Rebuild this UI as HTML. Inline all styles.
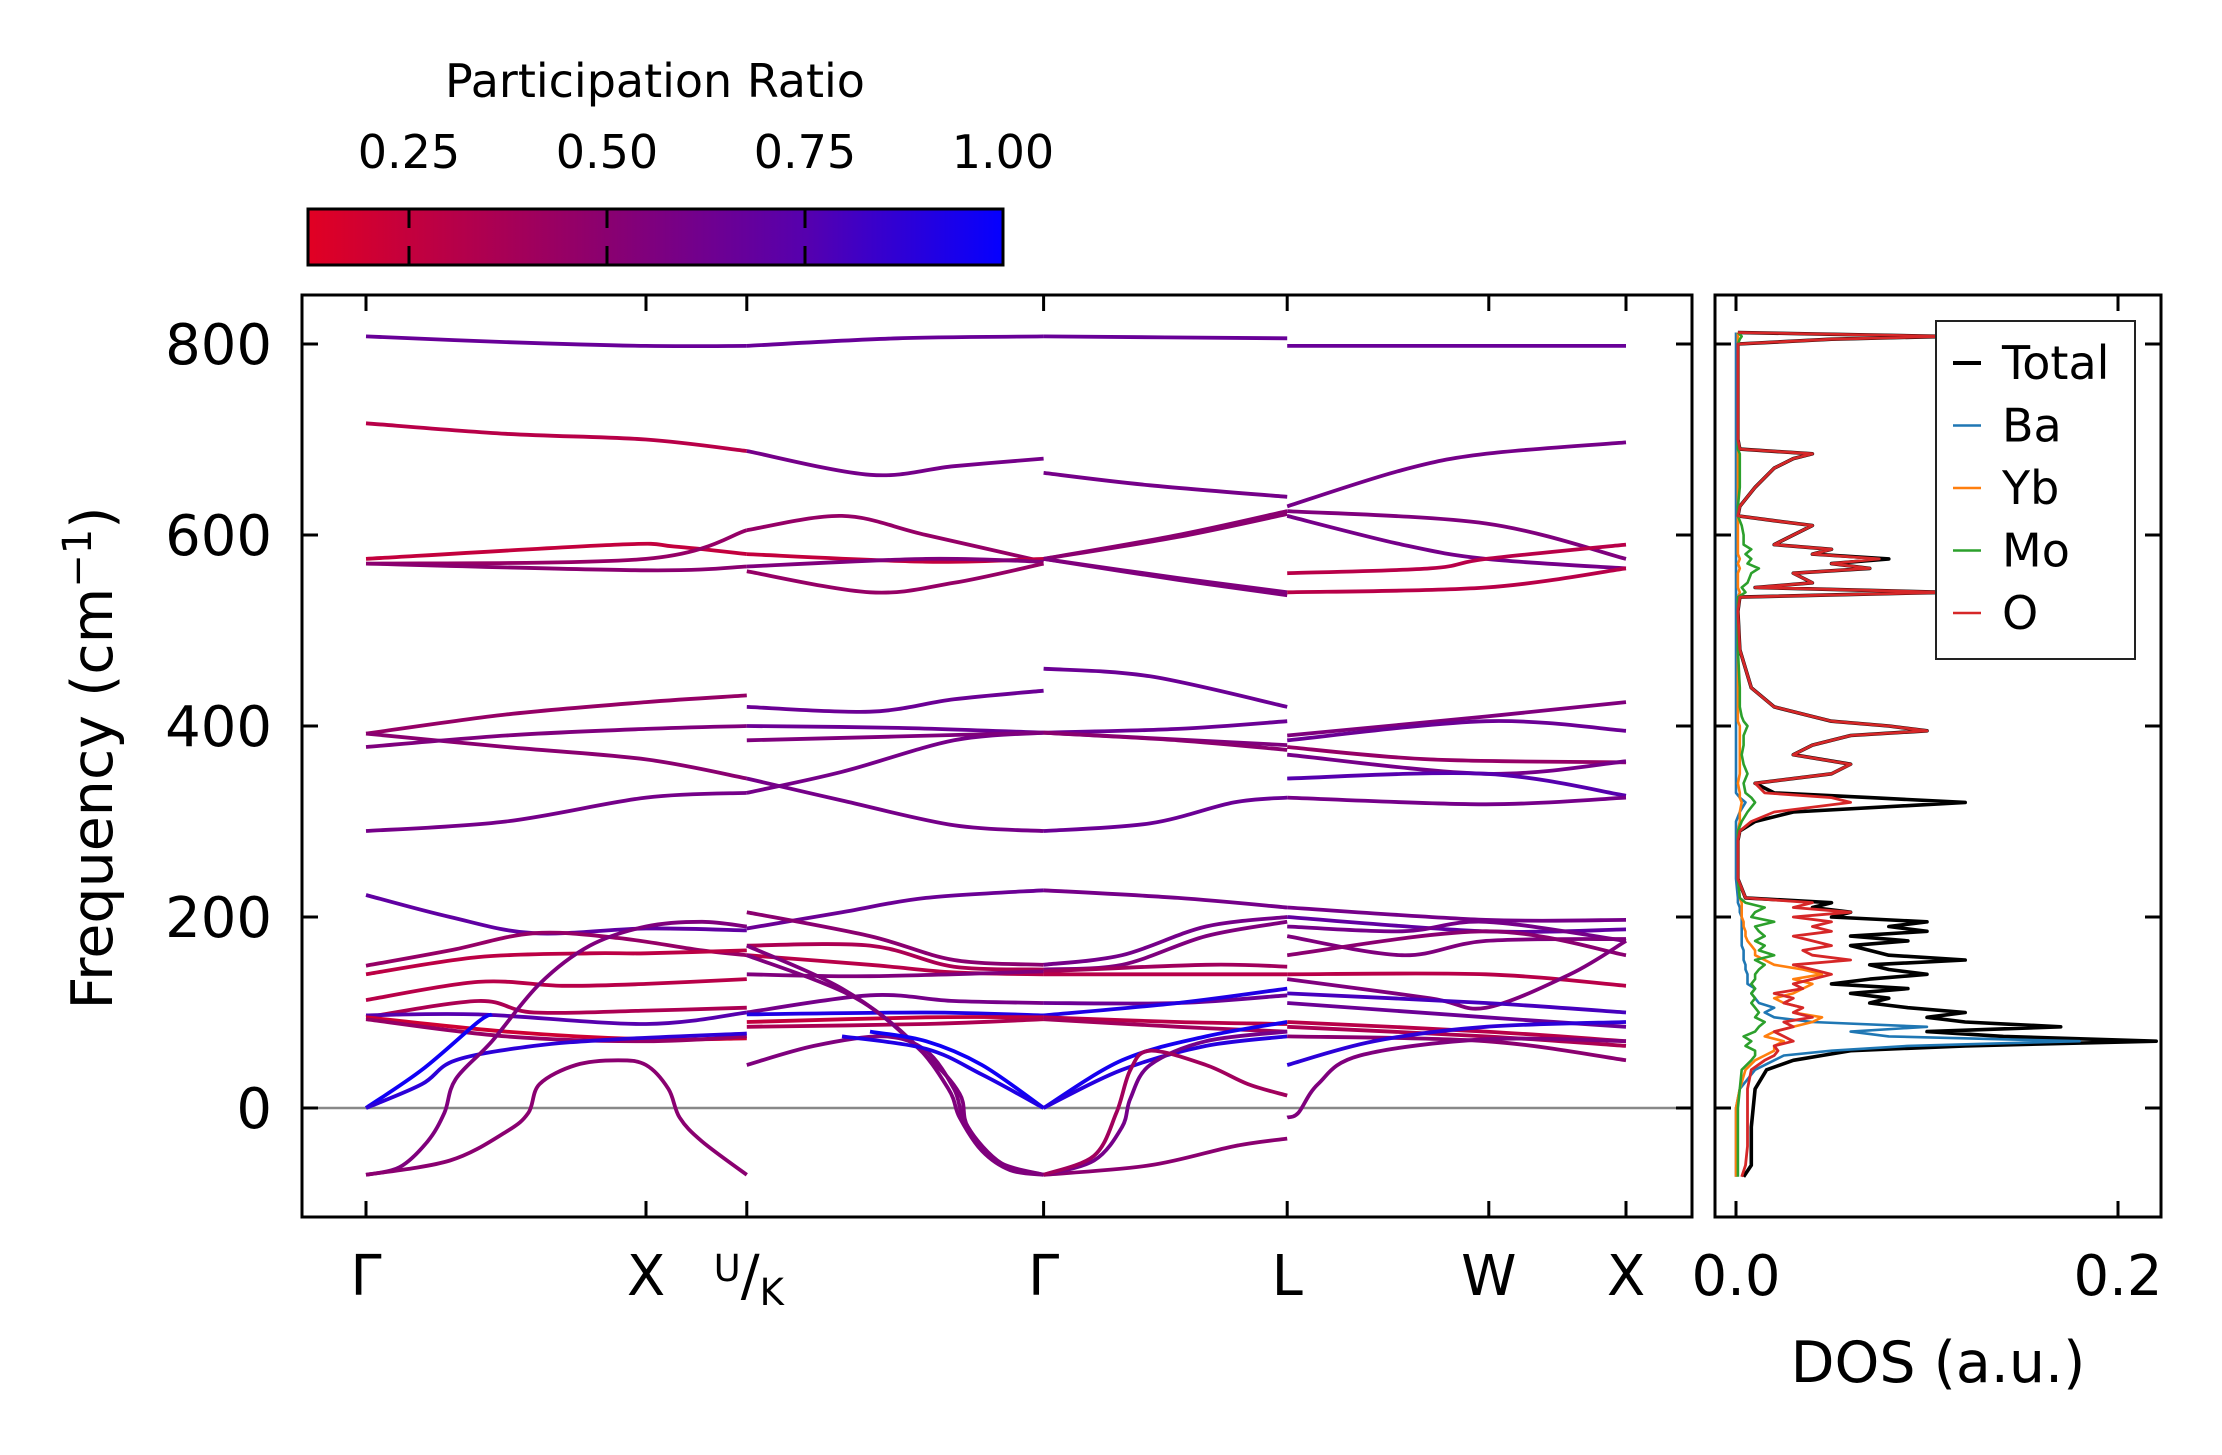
<!DOCTYPE html>
<html><head><meta charset="utf-8"><style>
html,body{margin:0;padding:0;background:#fff;}
svg{display:block;font-family:"DejaVu Sans","Liberation Sans",sans-serif;}
</style></head><body>
<svg id="chart" width="2222" height="1455" viewBox="0 0 2222 1455" xmlns="http://www.w3.org/2000/svg">
<defs>
<linearGradient id="cbgrad" x1="0" x2="1" y1="0" y2="0">
<stop offset="0" stop-color="rgb(225,0,35)"/>
<stop offset="0.43" stop-color="rgb(138,0,112)"/>
<stop offset="0.72" stop-color="rgb(85,0,175)"/>
<stop offset="1" stop-color="rgb(5,0,255)"/>
</linearGradient>
<clipPath id="mainclip"><rect x="302" y="295" width="1390" height="922"/></clipPath>
<clipPath id="dosclip"><rect x="1715" y="295" width="446" height="922"/></clipPath>
</defs>
<text x="655" y="97" font-size="46" text-anchor="middle">Participation Ratio</text>
<g id="cbticks"></g>
<rect x="308" y="209" width="695" height="56" fill="url(#cbgrad)" stroke="#000" stroke-width="3"/>
<g id="cbmarks"></g>
<g id="main"></g>
<g id="dos"></g>
<text transform="translate(112,758) rotate(-90)" font-size="57" text-anchor="middle">Frequency (cm<tspan dy="-21" font-size="40">−1</tspan><tspan dy="21">)</tspan></text>
<text x="1938" y="1382" font-size="57" text-anchor="middle">DOS (a.u.)</text>
</svg>
<script>
// ---- band structure data ----
const kTickPos = [0, 1, 1.36, 2.42, 3.29, 4.01, 4.5];
const kTickLabels = ['Γ', 'X', 'U/K', 'Γ', 'L', 'W', 'X'];
const freqTicks = [0, 200, 400, 600, 800];
const cbTicks = [0.25, 0.5, 0.75, 1.0];
const cbTickLabels = ['0.25', '0.50', '0.75', '1.00'];
const bandK = [
// segment 1
[0,0.5,1,1.36],[0,0.5,1,1.36],[0,0.9,1.1,1.36],[0,1,1.36],[0,1,1.36],
[0,0.5,1,1.36],[0,0.5,1,1.36],[0,0.5,1,1.36],[0,0.5,1,1.36],
[0,0.3,0.6,1,1.36],[0,0.3,0.6,0.9,1.2,1.36],[0,0.4,0.8,1,1.36],[0,0.4,0.7,1,1.36],
[0,0.4,0.6,1,1.36],[0,0.4,1,1.36],[0,0.5,1,1.36],[0,0.5,1,1.36],
[0,0.2,0.4,0.45],[0,0.2,0.32,0.6,0.9,1.36],
[0,0.12,0.22,0.28,0.32,0.45,0.62,0.8,1,1.2,1.36],
[0,0.3,0.5,0.58,0.62,0.75,0.9,1,1.08,1.12,1.2,1.36],
// segment 2
[1.36,1.9,2.42],[1.36,1.8,2.1,2.42],[1.36,1.7,2,2.42],[1.36,2,2.42],[1.36,2,2.42],[1.36,1.8,2.1,2.42],
[1.36,1.8,2.1,2.42],[1.36,1.9,2.42],[1.36,1.7,2.1,2.42],[1.36,1.7,2.1,2.42],[1.36,2.42],
[1.36,1.7,2,2.42],[1.36,1.8,2.1,2.42],[1.36,1.8,2.1,2.42],[1.36,1.8,2.1,2.42],[1.36,1.8,2.42],
[1.36,1.8,2.1,2.42],[1.36,2,2.42],[1.36,2,2.42],[1.36,2,2.42],
[1.36,1.6,1.85,2,2.1,2.14,2.25,2.42],[1.36,1.7,1.95,2.08,2.12,2.2,2.3,2.42],[1.36,1.75,2,2.12,2.15,2.27,2.42],
[1.8,2,2.2,2.42],[1.7,2,2.2,2.42],
// segment 3
[2.42,3.29],[2.42,2.8,3.29],[2.42,2.9,3.29],[2.42,2.9,3.29],[2.42,2.9,3.29],[2.42,2.9,3.29],
[2.42,2.8,3.29],[2.42,2.9,3.29],[2.42,3.29],[2.42,2.9,3.29],[2.42,2.8,3.1,3.29],
[2.42,2.9,3.29],[2.42,2.7,3,3.29],[2.42,2.7,3,3.29],[2.42,3,3.29],[2.42,3,3.29],
[2.42,2.9,3.29],[2.42,2.9,3.29],[2.42,2.9,3.29],[2.42,2.9,3.29],
[2.42,2.7,3,3.29],[2.42,2.7,3,3.29],[2.42,2.8,3.1,3.29],
[2.42,2.6,2.7,2.73,2.8,3,3.29],[2.42,2.6,2.68,2.73,2.8,3,3.15,3.29],
// segment 4
[3.29,4.5],[3.29,3.7,4,4.5],[3.29,4,4.5],[3.29,3.7,4,4.5],[3.29,3.8,4,4.5],[3.29,4,4.5],
[3.29,4,4.5],[3.29,4,4.5],[3.29,3.8,4.5],[3.29,4,4.5],[3.29,4,4.5],[3.29,4,4.5],
[3.29,4,4.5],[3.29,4,4.5],[3.29,3.7,4,4.5],[3.29,3.7,4,4.5],[3.29,4,4.5],[3.29,4,4.5],
[3.29,3.8,4,4.3,4.5],[3.29,4,4.5],[3.29,4,4.5],[3.29,4,4.5],[3.29,4,4.5],[3.29,4,4.5],
[3.29,3.6,4,4.5],[3.29,3.33,3.4,3.55,4,4.5]
];
const bandF = [
[808,802,798,798],[717,706,700,688],[575,590,588,580],[570,575,605],[570,563,567],
[392,412,425,432],[392,378,365,345],[378,390,397,400],[290,300,325,330],
[223,200,183,188,186],[149,165,183,178,165,160],[140,158,162,162,165],[113,132,128,130,135],
[95,112,100,102,105],[97,98,88,100],[95,80,72,73],[93,75,70,75],
[0,40,90,98],[0,25,50,65,72,78],
[-70,-62,-35,-5,30,70,130,170,190,195,190],
[-70,-55,-25,-5,25,45,50,45,20,-10,-35,-70],
[798,806,808],[688,663,672,680],[605,620,600,572],[580,572,575],[567,575,572],[562,540,550,570],
[420,415,428,437],[400,398,393],[330,352,385,393],[345,322,296,290],[385,393],
[188,205,220,228],[205,180,155,150],[170,170,148,145],[160,150,142,140],[140,138,143],
[100,118,112,110],[98,100,97],[90,95,95],[85,88,93],
[45,65,75,60,20,-15,-55,-70],[170,125,70,20,-10,-45,-65,-70],[160,115,55,15,-20,-58,-70],
[80,70,45,0],[75,62,35,0],
[808,806],[665,652,640],[575,600,625],[575,598,622],[575,555,540],[575,553,537],
[460,452,420],[393,397,405],[393,380],[393,385,375],[290,298,320,325],
[228,220,210],[150,160,190,200],[145,150,180,195],[143,150,148],[140,140,140],
[110,110,118],[97,110,125],[95,90,88],[93,85,80],
[0,50,75,90],[0,40,65,75],[-70,-60,-40,-32],
[-70,-55,-20,10,45,70,80],[-70,-50,-5,40,60,45,25,13],
[798,798],[630,668,685,697],[625,612,575],[620,590,575,565],[560,565,575,590],[540,545,565],
[390,410,425],[385,405,395],[378,365,362],[370,350,363],[345,350,327],[325,318,325],
[210,197,197],[200,185,187],[190,185,195,175],[180,160,175,177],[160,185,160],[140,140,128],
[135,115,105,140,175],[120,110,100],[110,95,85],[90,80,70],[85,75,65],[75,70,50],
[45,70,85,90],[-10,-5,25,55,72,70]
];
const bandP = [
0.66,0.3,0.25,0.45,0.5,0.45,0.5,0.55,0.6,
0.7,0.45,0.28,0.3,0.35,0.75,0.2,0.45,0.97,0.88,0.55,0.5,
0.66,0.6,0.45,0.25,0.55,0.45,0.65,0.65,0.6,0.6,0.55,
0.65,0.5,0.35,0.3,0.55,0.6,0.92,0.25,0.35,0.55,0.55,0.55,0.97,0.92,
0.66,0.6,0.5,0.5,0.55,0.55,0.65,0.65,0.55,0.5,0.65,
0.6,0.6,0.55,0.4,0.3,0.65,0.92,0.3,0.4,0.95,0.9,0.5,0.6,0.4,
0.66,0.6,0.55,0.6,0.3,0.3,0.55,0.65,0.45,0.6,0.75,0.6,
0.6,0.7,0.6,0.55,0.5,0.3,0.55,0.8,0.65,0.3,0.35,0.5,0.88,0.55
];
// ---- DOS data ----
const dosFreq = [-72,-60,-40,-20,0,20,40,50,55,60,65,70,75,80,85,90,95,100,105,110,115,120,125,130,135,140,145,150,155,160,165,170,175,180,185,190,195,200,205,210,215,220,240,280,290,300,310,320,325,330,340,350,360,370,380,390,395,400,405,410,420,440,480,520,535,540,545,550,560,565,570,575,580,585,590,600,610,615,620,630,650,670,680,685,690,700,750,800,805,808,812];
const dosTotal = [0.004,0.008,0.008,0.008,0.009,0.01,0.016,0.03,0.045,0.06,0.12,0.22,0.14,0.10,0.17,0.12,0.10,0.12,0.09,0.07,0.08,0.06,0.09,0.05,0.07,0.10,0.08,0.07,0.12,0.08,0.07,0.06,0.09,0.06,0.10,0.08,0.10,0.05,0.06,0.04,0.05,0.005,0.001,0.001,0.002,0.01,0.03,0.12,0.07,0.02,0.01,0.05,0.06,0.03,0.04,0.06,0.10,0.08,0.05,0.04,0.02,0.008,0.002,0.001,0.002,0.11,0.01,0.04,0.03,0.07,0.05,0.08,0.04,0.05,0.02,0.03,0.04,0.02,0.001,0.002,0.01,0.02,0.03,0.04,0.002,0.001,0.001,0.001,0.05,0.11,0.001];
const dosO = [0.003,0.005,0.006,0.006,0.006,0.006,0.008,0.015,0.02,0.022,0.02,0.03,0.025,0.02,0.03,0.025,0.04,0.03,0.035,0.025,0.03,0.02,0.035,0.03,0.04,0.05,0.04,0.03,0.06,0.04,0.035,0.05,0.04,0.03,0.05,0.04,0.05,0.03,0.06,0.03,0.04,0.005,0.001,0.001,0.002,0.008,0.02,0.06,0.05,0.015,0.01,0.05,0.06,0.03,0.04,0.06,0.1,0.08,0.05,0.04,0.02,0.008,0.002,0.001,0.002,0.11,0.01,0.04,0.03,0.07,0.05,0.075,0.04,0.05,0.02,0.03,0.04,0.02,0.001,0.002,0.01,0.02,0.03,0.04,0.002,0.001,0.001,0.001,0.05,0.11,0.001];
const dosBa = [0,0,0,0,0,0.002,0.01,0.02,0.025,0.05,0.09,0.18,0.08,0.06,0.10,0.04,0.02,0.015,0.02,0.012,0.01,0.008,0.01,0.006,0.006,0.006,0.005,0.005,0.004,0.004,0.004,0.003,0.003,0.003,0.003,0.003,0.003,0.003,0.002,0.002,0.001,0.001,0,0,0,0,0.002,0.005,0.002,0,0,0,0,0,0,0,0,0,0,0,0,0,0,0,0,0,0,0,0,0,0,0,0,0,0,0,0,0,0,0,0,0,0,0,0,0,0,0,0,0,0];
const dosYb = [0,0,0,0,0,0.002,0.005,0.01,0.015,0.02,0.02,0.025,0.015,0.02,0.03,0.04,0.045,0.03,0.035,0.025,0.02,0.03,0.035,0.04,0.03,0.045,0.035,0.02,0.015,0.01,0.01,0.008,0.006,0.005,0.005,0.004,0.004,0.003,0.003,0.003,0.003,0.002,0.001,0.001,0.001,0.002,0.002,0.003,0.002,0.002,0.001,0.002,0.002,0.002,0.002,0.002,0.002,0.002,0.001,0.001,0.001,0.001,0.001,0.001,0.001,0.002,0.001,0.001,0.001,0.002,0.001,0.002,0.001,0.001,0.001,0.001,0.001,0.001,0.001,0.001,0.001,0.001,0.001,0.001,0.001,0.001,0.001,0.001,0.001,0.001,0.001];
const dosMo = [0.001,0.001,0.001,0.001,0.001,0.002,0.003,0.008,0.01,0.01,0.005,0.008,0.004,0.01,0.012,0.015,0.01,0.012,0.01,0.008,0.01,0.008,0.01,0.008,0.01,0.01,0.012,0.015,0.01,0.02,0.012,0.015,0.01,0.015,0.012,0.01,0.02,0.008,0.01,0.015,0.005,0.002,0.001,0.001,0.001,0.003,0.006,0.01,0.008,0.005,0.004,0.006,0.004,0.003,0.004,0.004,0.005,0.006,0.004,0.003,0.002,0.002,0.001,0.001,0.001,0.005,0.003,0.006,0.008,0.012,0.006,0.008,0.005,0.008,0.004,0.004,0.003,0.002,0.001,0.001,0.002,0.002,0.002,0.002,0.001,0.001,0.001,0.001,0.002,0.003,0.001];
const legendNames = ['Total','Ba','Yb','Mo','O'];
const legendColors = ['#000000','#1f77b4','#ff7f0e','#2ca02c','#d62728'];

const NS = 'http://www.w3.org/2000/svg';
function mk(tag, attrs, parent){ const e=document.createElementNS(NS,tag); for(const k in attrs) e.setAttribute(k,attrs[k]); parent.appendChild(e); return e; }
const Y0 = 1108, PXU = 0.955;
function yScale(f){ return Y0 - f*PXU; }
function xScale(k){ return 366 + 280*k; }
function dosX(v){ return 1736 + 1910*v; }
function cbX(p){ return 409 + (p-0.25)*792; }
function pColor(p){
  const t = Math.max(0, Math.min(1, (p-0.12)/0.88));
  const stops=[[0,225,0,35],[0.43,138,0,112],[0.72,85,0,175],[1,5,0,255]];
  for(let i=0;i<stops.length-1;i++){ const a=stops[i], b=stops[i+1];
    if(t<=b[0]){ const u=(t-a[0])/(b[0]-a[0]); return `rgb(${Math.round(a[1]+u*(b[1]-a[1]))},0,${Math.round(a[3]+u*(b[3]-a[3]))})`; } }
  return 'rgb(5,0,255)';
}
function smoothPath(pts){
  let d = `M${pts[0][0].toFixed(1)},${pts[0][1].toFixed(1)}`;
  for(let i=0;i<pts.length-1;i++){
    const p0=pts[Math.max(0,i-1)], p1=pts[i], p2=pts[i+1], p3=pts[Math.min(pts.length-1,i+2)];
    const c1=[p1[0]+(p2[0]-p0[0])/6, p1[1]+(p2[1]-p0[1])/6];
    const c2=[p2[0]-(p3[0]-p1[0])/6, p2[1]-(p3[1]-p1[1])/6];
    d += ` C${c1[0].toFixed(1)},${c1[1].toFixed(1)} ${c2[0].toFixed(1)},${c2[1].toFixed(1)} ${p2[0].toFixed(1)},${p2[1].toFixed(1)}`;
  }
  return d;
}
const cbt = document.getElementById('cbticks'), cbm = document.getElementById('cbmarks');
cbTicks.forEach((p,i)=>{
  const t = mk('text',{x:cbX(p),y:168,'font-size':46,'text-anchor':'middle'},cbt);
  
  
  t.textContent = cbTickLabels[i];
  if(p<1){
    const a=mk('line',{x1:cbX(p),x2:cbX(p),y1:209,y2:228,stroke:'#000','stroke-width':3},cbm);
     
    const b=mk('line',{x1:cbX(p),x2:cbX(p),y1:246,y2:265,stroke:'#000','stroke-width':3},cbm);
     
  }
});
const main = document.getElementById('main');
const zl = mk('line',{x1:302,x2:1692,y1:yScale(0),y2:yScale(0),stroke:'#888','stroke-width':2.5},main);
 
const bands = mk('g',{'clip-path':'url(#mainclip)',fill:'none','stroke-width':3.8,'stroke-linecap':'butt'},main);
 
bandK.forEach((ks,i)=>{
  const pts = ks.map((k,j)=>[xScale(k), yScale(bandF[i][j])]);
  const p = mk('path',{d:smoothPath(pts),stroke:pColor(bandP[i])},bands);
   
});
const fr = mk('rect',{x:302,y:295,width:1390,height:922,fill:'none',stroke:'#000','stroke-width':3},main);
 
freqTicks.forEach(f=>{
  const y=yScale(f);
  const a=mk('line',{x1:302,x2:318,y1:y,y2:y,stroke:'#000','stroke-width':3},main);
   
  const b=mk('line',{x1:1676,x2:1692,y1:y,y2:y,stroke:'#000','stroke-width':3},main);
   
  const t=mk('text',{x:272,y:y+20,'font-size':56,'text-anchor':'end'},main);
   
  t.textContent=String(f);
});
kTickPos.forEach((k,i)=>{
  const x=xScale(k);
  const a=mk('line',{x1:x,x2:x,y1:295,y2:311,stroke:'#000','stroke-width':3},main);
   
  const b=mk('line',{x1:x,x2:x,y1:1201,y2:1217,stroke:'#000','stroke-width':3},main);
   
  const t=mk('text',{x:x,y:1295,'font-size':56,'text-anchor':'middle'},main);
   
  if(kTickLabels[i]==='U/K'){
    t.setAttribute('x', x+2);
    const s1=mk('tspan',{'font-size':37,dy:-14},t); s1.textContent='U';
    const s2=mk('tspan',{dy:14},t); s2.textContent='/';
    const s3=mk('tspan',{'font-size':37,dy:10},t); s3.textContent='K';
  } else t.textContent=kTickLabels[i];
});
const dos = document.getElementById('dos');
const dg = mk('g',{'clip-path':'url(#dosclip)',fill:'none','stroke-linejoin':'round'},dos);
 
[[dosTotal,0,3.6],[dosBa,1,2.6],[dosYb,2,2.6],[dosMo,3,2.6],[dosO,4,2.8]].forEach(([arr,ci,w])=>{
  const pts = dosFreq.map((f,j)=>`${dosX(arr[j]).toFixed(1)},${yScale(f).toFixed(1)}`).join(' ');
  const pl = mk('polyline',{points:pts,stroke:legendColors[ci],'stroke-width':w},dg);
  
  
});
const df = mk('rect',{x:1715,y:295,width:446,height:922,fill:'none',stroke:'#000','stroke-width':3},dos);
 
freqTicks.forEach(f=>{
  const y=yScale(f);
  const a=mk('line',{x1:1715,x2:1731,y1:y,y2:y,stroke:'#000','stroke-width':3},dos);
   
  const b=mk('line',{x1:2145,x2:2161,y1:y,y2:y,stroke:'#000','stroke-width':3},dos);
   
});
const dosTicks=[0,0.2], dosTickLabels=['0.0','0.2'];
dosTicks.forEach((v,i)=>{
  const x=dosX(v);
  const a=mk('line',{x1:x,x2:x,y1:295,y2:311,stroke:'#000','stroke-width':3},dos);
   
  const b=mk('line',{x1:x,x2:x,y1:1201,y2:1217,stroke:'#000','stroke-width':3},dos);
   
  const t=mk('text',{x:x,y:1295,'font-size':56,'text-anchor':'middle'},dos);
   
  t.textContent=dosTickLabels[i];
});
const lg = mk('g',{},dos);
 
const lb = mk('rect',{x:1936,y:321,width:199,height:338,fill:'#fff',stroke:'#222','stroke-width':2},lg);
 
legendNames.forEach((n,i)=>{
  const y = 363 + i*62.5;
  const l = mk('line',{x1:1953,x2:1981,y1:y,y2:y,stroke:legendColors[i],'stroke-width':i===0?4:2.6},lg);
   
  const t = mk('text',{x:2002,y:y+16,'font-size':46},lg);
   
  t.textContent = n;
});
</script>
</body></html>
